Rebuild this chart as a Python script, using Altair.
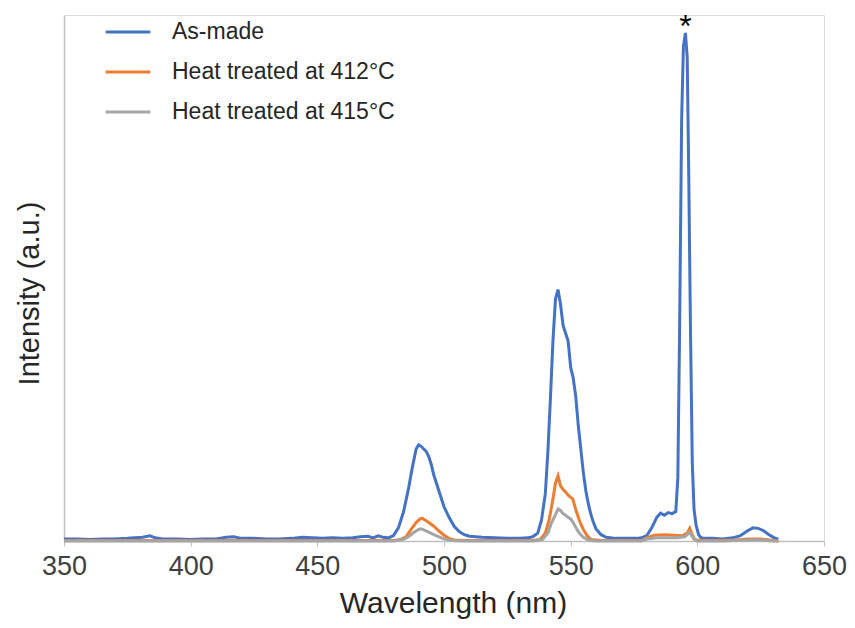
import altair as alt
import pandas as pd

series_names = ["As-made", "Heat treated at 412°C", "Heat treated at 415°C"]
series_colors = ["#4472C4", "#ED7D31", "#A5A5A5"]

blue_wl = [350, 355, 360, 365, 370, 375, 378, 381, 384, 386, 389, 395, 400, 405, 410, 414, 417, 420,
           425, 430, 435, 440, 444, 448, 452, 456, 460, 464, 467, 470, 472, 474, 476, 478, 480, 482,
           484, 486, 487.5, 489, 490, 491, 492, 493, 494, 495, 496, 498, 500, 502, 504, 506, 508, 510,
           515, 520, 525, 530, 533, 535, 537, 538.5, 540, 541, 542, 543, 544, 545, 546, 547, 548, 549,
           550, 551, 552, 553, 554, 555, 556, 557, 558, 559, 560, 562, 564, 568, 572, 576, 578, 580,
           582, 584, 585.5, 587, 588.5, 590, 591.5, 592.3, 593, 593.8, 594.5, 595.3, 596, 596.6, 597.3,
           598, 598.7, 599.5, 600.5, 601.5, 603, 606, 610, 614, 617, 620, 622, 624, 626, 628, 630, 632]
blue_val = [0.4, 0.4, 0.3, 0.4, 0.4, 0.5, 0.6, 0.7, 1.0, 0.6, 0.4, 0.4, 0.3, 0.4, 0.4, 0.7, 0.8, 0.5,
            0.5, 0.4, 0.4, 0.5, 0.7, 0.6, 0.5, 0.6, 0.5, 0.6, 0.8, 0.9, 0.6, 1.0, 0.7, 0.6, 1.0, 2.5,
            5.5, 10.0, 14.0, 17.5, 18.3, 18.0, 17.5, 17.0, 16.0, 14.5, 12.5, 9.5, 6.5, 4.5, 2.8, 1.8, 1.2, 0.9,
            0.7, 0.6, 0.5, 0.5, 0.6, 0.8, 1.5, 4.0, 9.0, 17.0, 27.0, 38.0, 46.0, 47.8, 45.0, 41.0, 39.5, 38.0,
            33.0, 31.0, 27.5, 22.0, 17.5, 13.0, 9.5, 7.0, 5.0, 3.5, 2.3, 1.2, 0.7, 0.5, 0.5, 0.5, 0.6, 1.0,
            2.5, 4.5, 5.3, 4.9, 5.4, 5.2, 5.6, 12.0, 40.0, 80.0, 94.0, 96.6, 92.0, 70.0, 40.0,
            15.0, 6.0, 3.0, 1.2, 0.6, 0.5, 0.5, 0.4, 0.6, 1.0, 2.0, 2.5, 2.4, 2.0, 1.3, 0.7, 0.3]

orange_wl = [350, 400, 450, 480, 483, 485, 487, 489, 490.5, 491.5, 492.5, 494, 496, 498, 500, 502, 504,
             508, 535, 538, 540, 541.5, 543, 544, 545, 546, 547, 548, 549, 550, 550.8, 552, 553.5, 555,
             556.5, 558, 562, 578, 580, 583, 587, 591, 594, 596, 597, 598, 599, 605, 615, 620, 625, 630, 632]
orange_val = [0.1, 0.1, 0.1, 0.1, 0.3, 0.8, 2.2, 3.5, 4.2, 4.3, 4.0, 3.5, 2.8, 1.9, 1.1, 0.5, 0.2,
              0.1, 0.1, 0.3, 1.5, 4.0, 8.0, 11.0, 12.4, 10.5, 9.8, 9.3, 8.7, 8.3, 8.0, 6.0, 3.8, 2.2,
              1.0, 0.3, 0.1, 0.1, 0.6, 1.1, 1.2, 1.1, 1.0, 1.5, 2.4, 1.2, 0.2, 0.1, 0.2, 0.4, 0.4, 0.1, 0.0]

gray_wl = [350, 400, 450, 480, 484, 486, 488, 490, 491, 492, 494, 496, 498, 500, 503, 508, 535, 539,
           541, 542.5, 544, 545, 546, 547, 548, 549, 550, 551, 552, 553, 554, 555, 557, 560, 578, 580,
           584, 588, 592, 595, 597, 598.5, 600, 610, 620, 625, 630, 632]
gray_val = [0.0, 0.0, 0.0, 0.0, 0.3, 0.8, 1.6, 2.2, 2.3, 2.1, 1.7, 1.2, 0.8, 0.4, 0.1, 0.0, 0.0, 0.3,
            1.5, 3.5, 5.0, 6.1, 5.8, 5.2, 4.9, 4.5, 4.2, 3.5, 2.6, 1.8, 1.2, 0.7, 0.2, 0.0, 0.0, 0.4,
            0.6, 0.6, 0.6, 0.8, 1.6, 0.5, 0.0, 0.0, 0.2, 0.2, 0.0, 0.0]

x_ticks = [350, 400, 450, 500, 550, 600, 650]
marker_wl = [595.3]
marker_val = [95.8]
marker_text = ["*"]

rows = []
for name, wl, val in [(series_names[0], blue_wl, blue_val),
                      (series_names[1], orange_wl, orange_val),
                      (series_names[2], gray_wl, gray_val)]:
    for order, (w, v) in enumerate(zip(wl, val)):
        rows.append({"series": name, "wl": w, "val": v, "order": order})
df = pd.DataFrame(rows)
star_df = pd.DataFrame({"wl": marker_wl, "val": marker_val, "t": marker_text})

FONT = "Liberation Sans"

x_enc = alt.X("wl:Q", scale=alt.Scale(domain=[350, 650], nice=False, zero=False),
              axis=alt.Axis(values=x_ticks, title="Wavelength (nm)", grid=False,
                            labelFontSize=27, titleFontSize=30, labelColor="#404040",
                            titleColor="#262626", domainColor="#BFBFBF", tickColor="#BFBFBF",
                            tickSize=5, labelPadding=7, titlePadding=9, titleFontWeight="normal",
                            labelFont=FONT, titleFont=FONT, domainWidth=1.5, labelFlush=False,
                            titleX=389))
y_enc = alt.Y("val:Q", scale=alt.Scale(domain=[0, 100], nice=False),
              axis=alt.Axis(title="Intensity (a.u.)", labels=False, ticks=False, grid=False,
                            titleFontSize=29, titleColor="#262626", domainColor="#BFBFBF",
                            titlePadding=20, titleFontWeight="normal", titleFont=FONT, domainWidth=1.5,
                            titleY=278))

lines = alt.Chart(df).mark_line(strokeWidth=3, interpolate="linear").encode(
    x=x_enc,
    y=y_enc,
    color=alt.Color("series:N",
                    scale=alt.Scale(domain=series_names, range=series_colors),
                    sort=series_names,
                    legend=alt.Legend(title=None, orient="none", legendX=40, legendY=-7,
                                      symbolType="stroke", symbolStrokeWidth=3, symbolSize=2000,
                                      labelFontSize=23, labelColor="#262626", labelFont=FONT,
                                      rowPadding=4, labelOffset=20, labelLimit=400)),
    order="order:Q",
)

star = alt.Chart(star_df).mark_text(fontSize=32, font=FONT, color="#000000", baseline="alphabetic",
                                    align="center").encode(
    x=alt.X("wl:Q"), y=alt.Y("val:Q"), text="t:N")

chart = alt.layer(lines, star).properties(
    width=760, height=526,
    autosize=alt.AutoSizeParams(type="none"),
    padding={"left": 56, "top": 7, "right": 23, "bottom": 79},
).configure_view(stroke=None).configure(background="white")

chart.save("out.html", embed_options={"renderer": "svg", "actions": False})
